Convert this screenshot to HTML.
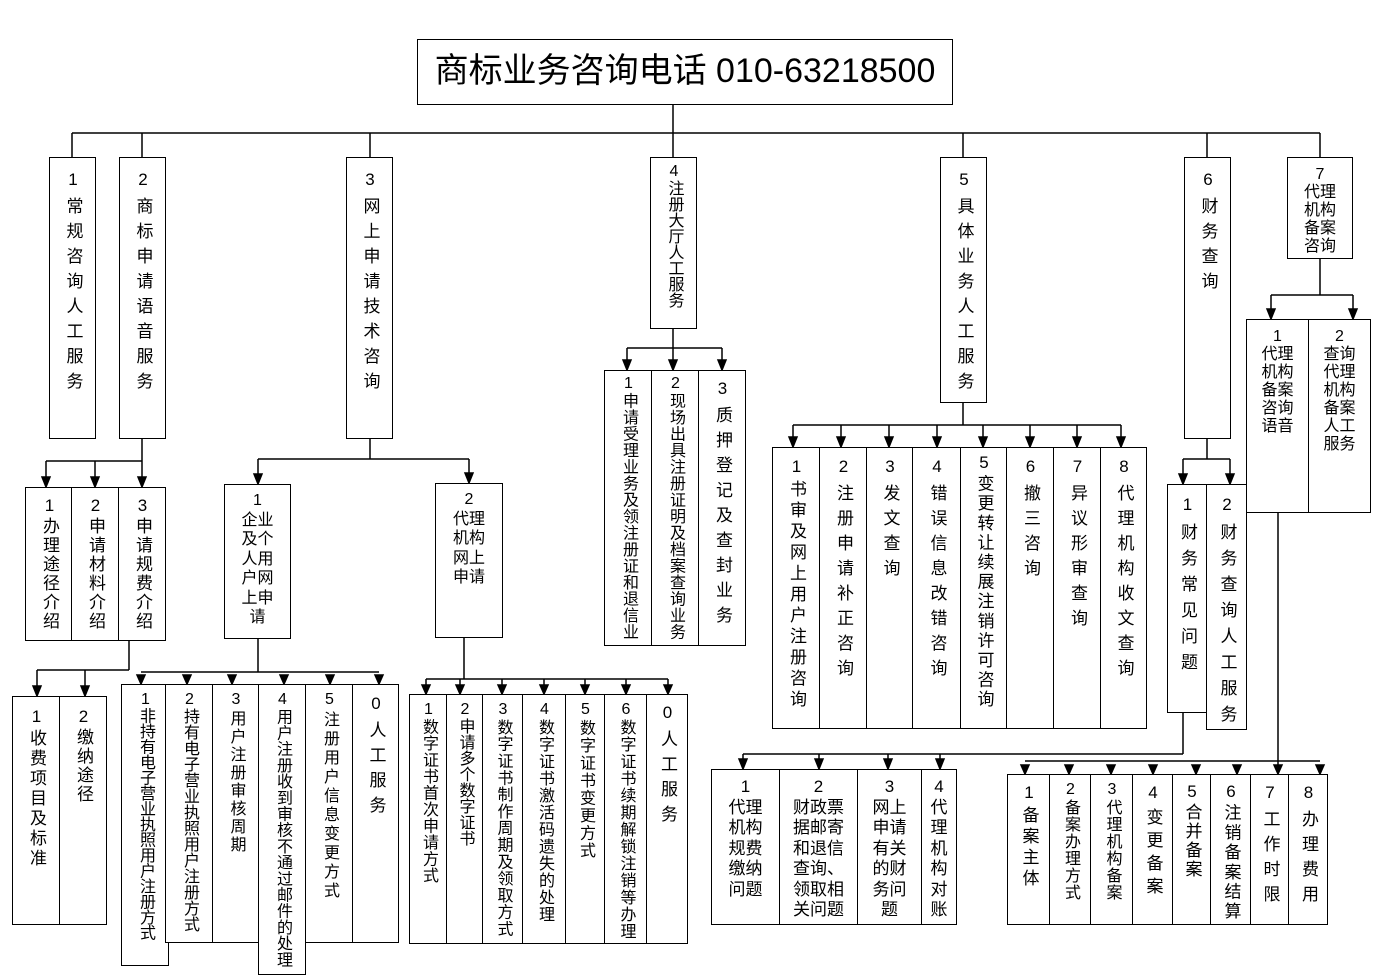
<!DOCTYPE html>
<html><head><meta charset="utf-8">
<style>
body{margin:0;background:#fff;}
#c{position:relative;width:1381px;height:976px;overflow:hidden;background:#fff;font-family:"Liberation Sans","Noto Sans CJK SC",sans-serif;color:#000;}
.b{position:absolute;box-sizing:border-box;border:1.5px solid #000;display:flex;justify-content:center;align-items:flex-start;background:#fff;}
.b span{writing-mode:vertical-rl;text-orientation:upright;font-size:17px;line-height:20px;margin-top:10px;letter-spacing:8px;white-space:nowrap;}
.h{position:absolute;box-sizing:border-box;border:1.5px solid #000;text-align:center;font-size:16px;line-height:19px;background:#fff;}
svg{position:absolute;left:0;top:0;}
</style></head><body><div id="c">
<svg width="1381" height="976" stroke="#000" stroke-width="1.5" fill="#000">
<line x1="673" y1="104" x2="673" y2="133"/><line x1="72" y1="133" x2="1320" y2="133"/>
<line x1="72" y1="133" x2="72" y2="157"/><line x1="142" y1="133" x2="142" y2="157"/><line x1="370" y1="133" x2="370" y2="157"/><line x1="673" y1="133" x2="673" y2="157"/><line x1="963" y1="133" x2="963" y2="157"/><line x1="1207" y1="133" x2="1207" y2="157"/><line x1="1320" y1="133" x2="1320" y2="157"/>
<line x1="142" y1="438" x2="142" y2="461"/><line x1="46" y1="461" x2="142" y2="461"/>
<line x1="46" y1="461" x2="46" y2="478"/><polygon points="42,477 50,477 46,487"/>
<line x1="95" y1="461" x2="95" y2="478"/><polygon points="91,477 99,477 95,487"/>
<line x1="142" y1="461" x2="142" y2="478"/><polygon points="138,477 146,477 142,487"/>
<line x1="129" y1="640" x2="129" y2="670"/><line x1="37" y1="670" x2="129" y2="670"/>
<line x1="37" y1="670" x2="37" y2="687"/><polygon points="33,686 41,686 37,696"/>
<line x1="85" y1="670" x2="85" y2="687"/><polygon points="81,686 89,686 85,696"/>
<line x1="370" y1="438" x2="370" y2="459"/><line x1="258" y1="459" x2="469" y2="459"/>
<line x1="258" y1="459" x2="258" y2="475"/><polygon points="254,474 262,474 258,484"/>
<line x1="469" y1="459" x2="469" y2="474"/><polygon points="465,473 473,473 469,483"/>
<line x1="258" y1="638" x2="258" y2="672"/><line x1="141" y1="672" x2="379" y2="672"/>
<polygon points="137,675 145,675 141,684"/><polygon points="183,675 191,675 187,684"/><polygon points="228,675 236,675 232,684"/><polygon points="280,675 288,675 284,684"/><polygon points="326,675 334,675 330,684"/><polygon points="375,675 383,675 379,684"/>
<line x1="464" y1="637" x2="464" y2="679"/><line x1="426" y1="679" x2="668" y2="679"/>
<line x1="426" y1="679" x2="426" y2="686"/><polygon points="422,685 430,685 426,694"/>
<line x1="460" y1="679" x2="460" y2="686"/><polygon points="456,685 464,685 460,694"/>
<line x1="502" y1="679" x2="502" y2="686"/><polygon points="498,685 506,685 502,694"/>
<line x1="544" y1="679" x2="544" y2="686"/><polygon points="540,685 548,685 544,694"/>
<line x1="585" y1="679" x2="585" y2="686"/><polygon points="581,685 589,685 585,694"/>
<line x1="626" y1="679" x2="626" y2="686"/><polygon points="622,685 630,685 626,694"/>
<line x1="668" y1="679" x2="668" y2="686"/><polygon points="664,685 672,685 668,694"/>
<line x1="673" y1="328" x2="673" y2="348"/><line x1="627" y1="348" x2="722" y2="348"/>
<line x1="627" y1="348" x2="627" y2="361"/><polygon points="623,360 631,360 627,370"/>
<line x1="673" y1="348" x2="673" y2="361"/><polygon points="669,360 677,360 673,370"/>
<line x1="722" y1="348" x2="722" y2="361"/><polygon points="718,360 726,360 722,370"/>
<line x1="963" y1="402" x2="963" y2="425"/><line x1="793" y1="425" x2="1121" y2="425"/>
<line x1="793" y1="425" x2="793" y2="438"/><polygon points="789,437 797,437 793,447"/>
<line x1="841" y1="425" x2="841" y2="438"/><polygon points="837,437 845,437 841,447"/>
<line x1="889" y1="425" x2="889" y2="438"/><polygon points="885,437 893,437 889,447"/>
<line x1="937" y1="425" x2="937" y2="438"/><polygon points="933,437 941,437 937,447"/>
<line x1="983" y1="425" x2="983" y2="438"/><polygon points="979,437 987,437 983,447"/>
<line x1="1030" y1="425" x2="1030" y2="438"/><polygon points="1026,437 1034,437 1030,447"/>
<line x1="1077" y1="425" x2="1077" y2="438"/><polygon points="1073,437 1081,437 1077,447"/>
<line x1="1121" y1="425" x2="1121" y2="438"/><polygon points="1117,437 1125,437 1121,447"/>
<line x1="1207" y1="438" x2="1207" y2="459"/><line x1="1183" y1="459" x2="1230" y2="459"/>
<line x1="1183" y1="459" x2="1183" y2="475"/><polygon points="1179,474 1187,474 1183,484"/>
<line x1="1230" y1="459" x2="1230" y2="475"/><polygon points="1226,474 1234,474 1230,484"/>
<line x1="1183" y1="712" x2="1183" y2="754"/><line x1="743" y1="754" x2="1183" y2="754"/>
<line x1="743" y1="754" x2="743" y2="760"/><polygon points="739,759 747,759 743,769"/>
<line x1="819" y1="754" x2="819" y2="760"/><polygon points="815,759 823,759 819,769"/>
<line x1="888" y1="754" x2="888" y2="760"/><polygon points="884,759 892,759 888,769"/>
<line x1="940" y1="754" x2="940" y2="760"/><polygon points="936,759 944,759 940,769"/>
<line x1="1320" y1="258" x2="1320" y2="295"/><line x1="1271" y1="295" x2="1353" y2="295"/>
<line x1="1271" y1="295" x2="1271" y2="310"/><polygon points="1267,309 1275,309 1271,319"/>
<line x1="1353" y1="295" x2="1353" y2="310"/><polygon points="1349,309 1357,309 1353,319"/>
<line x1="1278" y1="512" x2="1278" y2="765"/><line x1="1025" y1="761" x2="1320" y2="761"/>
<polygon points="1021,765 1029,765 1025,774"/><polygon points="1065,765 1073,765 1069,774"/><polygon points="1107,765 1115,765 1111,774"/><polygon points="1149,765 1157,765 1153,774"/><polygon points="1192,765 1200,765 1196,774"/><polygon points="1233,765 1241,765 1237,774"/><polygon points="1274,765 1282,765 1278,774"/><polygon points="1316,765 1324,765 1320,774"/>
</svg>

<div class="h" style="left:417px;top:39px;width:536px;height:66px;font-size:34px;line-height:62px;">商标业务咨询电话 010-63218500</div>

<div class="b" style="left:49px;top:157px;width:47px;height:282px"><span style="margin-top:12px">1常规咨询人工服务</span></div>
<div class="b" style="left:119px;top:157px;width:47px;height:282px"><span style="margin-top:12px">2商标申请语音服务</span></div>
<div class="b" style="left:346px;top:157px;width:47px;height:282px"><span style="margin-top:12px">3网上申请技术咨询</span></div>
<div class="b" style="left:650px;top:157px;width:47px;height:172px"><span style="margin-top:5px;font-size:16px;letter-spacing:0px">4注册大厅人工服务</span></div>
<div class="b" style="left:940px;top:157px;width:47px;height:246px"><span style="margin-top:12px">5具体业务人工服务</span></div>
<div class="b" style="left:1184px;top:157px;width:47px;height:282px"><span style="margin-top:12px">6财务查询</span></div>
<div class="h" style="left:1287px;top:157px;width:66px;height:102px;padding-top:8px;line-height:18px">7<br>代理<br>机构<br>备案<br>咨询</div>

<div class="b" style="left:25px;top:487px;width:48px;height:154px"><span style="margin-top:8px;letter-spacing:2px">1办理途径介绍</span></div>
<div class="b" style="left:71px;top:487px;width:48px;height:154px"><span style="margin-top:8px;letter-spacing:2px">2申请材料介绍</span></div>
<div class="b" style="left:118px;top:487px;width:48px;height:154px"><span style="margin-top:8px;letter-spacing:2px">3申请规费介绍</span></div>
<div class="b" style="left:12px;top:696px;width:48px;height:229px"><span style="margin-top:10px;letter-spacing:3px">1收费项目及标准</span></div>
<div class="b" style="left:59px;top:696px;width:48px;height:229px"><span style="margin-top:10px;letter-spacing:2px">2缴纳途径</span></div>

<div class="h" style="left:224px;top:484px;width:67px;height:155px;padding-top:6px;line-height:19.5px">1<br>企业<br>及个<br>人用<br>户网<br>上申<br>请</div>
<div class="h" style="left:435px;top:483px;width:68px;height:155px;padding-top:6px;line-height:19.5px">2<br>代理<br>机构<br>网上<br>申请</div>

<div class="b" style="left:121px;top:684px;width:48px;height:282px"><span style="margin-top:6px;font-size:16px;letter-spacing:-0.5px">1非持有电子营业执照用户注册方式</span></div>
<div class="b" style="left:165px;top:684px;width:48px;height:259px"><span style="margin-top:6px;font-size:16px;letter-spacing:0px">2持有电子营业执照用户注册方式</span></div>
<div class="b" style="left:212px;top:684px;width:47px;height:259px"><span style="margin-top:6px;font-size:16px;letter-spacing:2px">3用户注册审核周期</span></div>
<div class="b" style="left:258px;top:684px;width:48px;height:291px"><span style="margin-top:6px;font-size:16px;letter-spacing:0.2px">4用户注册收到审核不通过邮件的处理</span></div>
<div class="b" style="left:305px;top:684px;width:48px;height:259px"><span style="margin-top:6px;font-size:16px;letter-spacing:3px">5注册用户信息变更方式</span></div>
<div class="b" style="left:352px;top:684px;width:47px;height:259px"><span style="margin-top:9px">0人工服务</span></div>

<div class="b" style="left:409px;top:694px;width:38px;height:250px"><span style="margin-top:6px;font-size:16px;letter-spacing:0.5px">1数字证书首次申请方式</span></div>
<div class="b" style="left:446px;top:694px;width:37px;height:250px"><span style="margin-top:6px;font-size:16px;letter-spacing:0px">2申请多个数字证书</span></div>
<div class="b" style="left:482px;top:694px;width:41px;height:250px"><span style="margin-top:6px;font-size:16px;letter-spacing:0.8px">3数字证书制作周期及领取方式</span></div>
<div class="b" style="left:522px;top:694px;width:44px;height:250px"><span style="margin-top:6px;font-size:16px;letter-spacing:1px">4数字证书激活码遗失的处理</span></div>
<div class="b" style="left:565px;top:694px;width:40px;height:250px"><span style="margin-top:6px;font-size:16px;letter-spacing:1.5px">5数字证书变更方式</span></div>
<div class="b" style="left:604px;top:694px;width:43px;height:250px"><span style="margin-top:6px;font-size:16px;letter-spacing:1px">6数字证书续期解锁注销等办理</span></div>
<div class="b" style="left:646px;top:694px;width:42px;height:250px"><span style="margin-top:8px">0人工服务</span></div>

<div class="b" style="left:604px;top:370px;width:48px;height:276px"><span style="margin-top:4px;font-size:16px;letter-spacing:0.5px">1申请受理业务及领注册证和退信业</span></div>
<div class="b" style="left:651px;top:370px;width:48px;height:276px"><span style="margin-top:4px;font-size:16px;letter-spacing:0.5px">2现场出具注册证明及档案查询业务</span></div>
<div class="b" style="left:698px;top:370px;width:48px;height:276px"><span style="margin-top:8px">3质押登记及查封业务</span></div>

<div class="b" style="left:772px;top:447px;width:48px;height:282px"><span style="margin-top:9px;letter-spacing:4px">1书审及网上用户注册咨询</span></div>
<div class="b" style="left:819px;top:447px;width:48px;height:282px"><span style="margin-top:9px">2注册申请补正咨询</span></div>
<div class="b" style="left:866px;top:447px;width:47px;height:282px"><span style="margin-top:9px">3发文查询</span></div>
<div class="b" style="left:912px;top:447px;width:49px;height:282px"><span style="margin-top:9px">4错误信息改错咨询</span></div>
<div class="b" style="left:960px;top:447px;width:47px;height:282px"><span style="margin-top:5px;letter-spacing:2.6px">5变更转让续展注销许可咨询</span></div>
<div class="b" style="left:1006px;top:447px;width:48px;height:282px"><span style="margin-top:9px">6撤三咨询</span></div>
<div class="b" style="left:1053px;top:447px;width:48px;height:282px"><span style="margin-top:9px">7异议形审查询</span></div>
<div class="b" style="left:1100px;top:447px;width:47px;height:282px"><span style="margin-top:9px">8代理机构收文查询</span></div>

<div class="b" style="left:1167px;top:484px;width:40px;height:229px"><span style="margin-top:10px;letter-spacing:9px">1财务常见问题</span></div>
<div class="b" style="left:1206px;top:484px;width:41px;height:246px"><span style="margin-top:10px;letter-spacing:9px">2财务查询人工服务</span></div>

<div class="h" style="left:711px;top:769px;width:69px;height:156px;padding-top:7px;font-size:17px;line-height:20.5px">1<br>代理<br>机构<br>规费<br>缴纳<br>问题</div>
<div class="h" style="left:779px;top:769px;width:79px;height:156px;padding-top:7px;font-size:17px;line-height:20.5px">2<br>财政票<br>据邮寄<br>和退信<br>查询、<br>领取相<br>关问题</div>
<div class="h" style="left:857px;top:769px;width:65px;height:156px;padding-top:7px;font-size:17px;line-height:20.5px">3<br>网上<br>申请<br>有关<br>的财<br>务问<br>题</div>
<div class="h" style="left:921px;top:769px;width:36px;height:156px;padding-top:7px;font-size:17px;line-height:20.5px">4<br>代<br>理<br>机<br>构<br>对<br>账</div>

<div class="h" style="left:1246px;top:319px;width:63px;height:194px;padding-top:8px;line-height:18px">1<br>代理<br>机构<br>备案<br>咨询<br>语音</div>
<div class="h" style="left:1308px;top:319px;width:63px;height:194px;padding-top:8px;line-height:18px">2<br>查询<br>代理<br>机构<br>备案<br>人工<br>服务</div>

<div class="b" style="left:1007px;top:774px;width:43px;height:151px"><span style="margin-top:8px;letter-spacing:4px">1备案主体</span></div>
<div class="b" style="left:1049px;top:774px;width:42px;height:151px"><span style="margin-top:6px;font-size:16px;letter-spacing:1px">2备案办理方式</span></div>
<div class="b" style="left:1090px;top:774px;width:43px;height:151px"><span style="margin-top:6px;font-size:16px;letter-spacing:1px">3代理机构备案</span></div>
<div class="b" style="left:1132px;top:774px;width:41px;height:151px"><span style="margin-top:8px;letter-spacing:6px">4变更备案</span></div>
<div class="b" style="left:1172px;top:774px;width:39px;height:151px"><span style="margin-top:7px;letter-spacing:2px">5合并备案</span></div>
<div class="b" style="left:1210px;top:774px;width:41px;height:151px"><span style="margin-top:7px;letter-spacing:2.7px">6注销备案结算</span></div>
<div class="b" style="left:1250px;top:774px;width:39px;height:151px"><span style="margin-top:8px">7工作时限</span></div>
<div class="b" style="left:1288px;top:774px;width:40px;height:151px"><span style="margin-top:8px">8办理费用</span></div>
</div></body></html>
